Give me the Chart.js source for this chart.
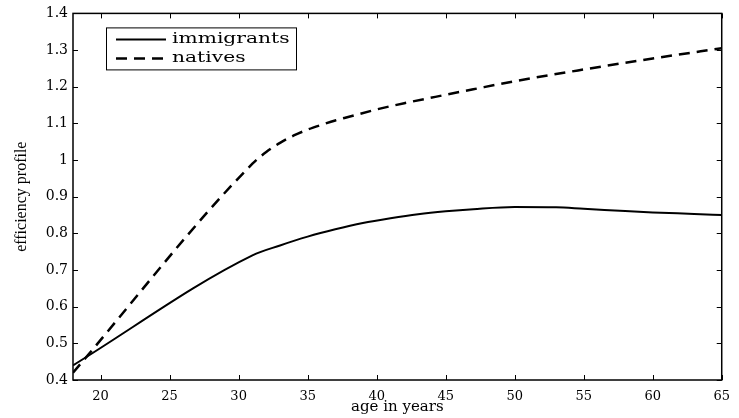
<!DOCTYPE html>
<html>
<head>
<meta charset="utf-8">
<script src="https://cdn.jsdelivr.net/npm/chart.js@4"></script>
<style>
  html, body { margin: 0; padding: 0; background: #fff; }
  #wrap { width: 739px; height: 418px; }
</style>
</head>
<body>
<div id="wrap"><canvas id="efficiencyChart" width="739" height="418"></canvas></div>
<script>
const immigrantAges = [18, 31, 33, 35, 37, 39, 41, 43, 45, 47, 50, 53, 55, 58, 60, 63, 65];
const immigrantValues = [0.44, 0.74, 0.767, 0.791, 0.811, 0.828, 0.841, 0.852, 0.860, 0.866, 0.872, 0.871, 0.867, 0.861, 0.857, 0.853, 0.850];

const nativeAges = [18, 31, 32, 33, 34, 35, 36, 37, 38, 40, 42, 45, 47, 50, 55, 60, 65];
const nativeValues = [0.42, 0.99, 1.022, 1.047, 1.067, 1.083, 1.096, 1.108, 1.118, 1.138, 1.155, 1.178, 1.193, 1.215, 1.247, 1.277, 1.305];

const xTicks = [20, 25, 30, 35, 40, 45, 50, 55, 60, 65];
const yTicks = [0.4, 0.5, 0.6, 0.7, 0.8, 0.9, 1.0, 1.1, 1.2, 1.3, 1.4];

const toPoints = (xs, ys) => xs.map((x, i) => ({ x: x, y: ys[i] }));

// box around the plot with inward tick marks, and the boxed legend
const framePlugin = {
    id: 'frame',
    afterDraw(chart) {
        const { ctx, chartArea: a, scales } = chart;
        const tick = 5;
        ctx.save();
        ctx.strokeStyle = '#000';
        ctx.lineWidth = 1;
        ctx.beginPath();
        xTicks.forEach(v => {
            const px = Math.round(scales.x.getPixelForValue(v)) + 0.5;
            ctx.moveTo(px, a.bottom); ctx.lineTo(px, a.bottom - tick);
            ctx.moveTo(px, a.top); ctx.lineTo(px, a.top + tick);
        });
        yTicks.forEach(v => {
            const py = Math.round(scales.y.getPixelForValue(v)) + 0.5;
            ctx.moveTo(a.left, py); ctx.lineTo(a.left + tick, py);
            ctx.moveTo(a.right, py); ctx.lineTo(a.right - tick, py);
        });
        ctx.stroke();
        ctx.lineWidth = 1.5;
        ctx.strokeRect(a.left, a.top, a.right - a.left, a.bottom - a.top);

        // legend
        const lx = a.left + 33, ly = a.top + 14, lw = 190, lh = 42;
        ctx.fillStyle = '#fff';
        ctx.fillRect(lx, ly, lw, lh);
        ctx.lineWidth = 1;
        ctx.strokeRect(lx + 0.5, ly + 0.5, lw, lh);
        const items = chart.data.datasets;
        ctx.font = '15px "DejaVu Serif"';
        ctx.textBaseline = 'middle';
        ctx.fillStyle = '#000';
        items.forEach((ds, i) => {
            const y = ly + 12 + i * 19;
            ctx.beginPath();
            ctx.lineWidth = ds.borderWidth;
            ctx.setLineDash(ds.borderDash || []);
            ctx.moveTo(lx + 10, y);
            ctx.lineTo(lx + 60, y);
            ctx.stroke();
            ctx.setLineDash([]);
            // the original figure's lettering is stretched sideways
            ctx.save();
            ctx.translate(lx + 66, y);
            ctx.scale(1.35, 1);
            ctx.fillText(ds.label, 0, 0);
            ctx.restore();
        });
        ctx.restore();
    }
};

const ctx = document.getElementById('efficiencyChart').getContext('2d');

new Chart(ctx, {
    type: 'line',
    data: {
        datasets: [
            {
                label: 'immigrants',
                data: toPoints(immigrantAges, immigrantValues),
                borderColor: '#000',
                borderWidth: 2,
                pointRadius: 0,
                cubicInterpolationMode: 'monotone',
                fill: false
            },
            {
                label: 'natives',
                data: toPoints(nativeAges, nativeValues),
                borderColor: '#000',
                borderWidth: 2.5,
                borderDash: [11, 7],
                pointRadius: 0,
                cubicInterpolationMode: 'monotone',
                fill: false
            }
        ]
    },
    options: {
        responsive: false,
        animation: false,
        layout: { padding: { top: 12, right: 13, left: 0, bottom: 0 } },
        plugins: {
            legend: { display: false },
            tooltip: { enabled: false }
        },
        scales: {
            x: {
                type: 'linear',
                min: 18,
                max: 65,
                grid: { display: false, drawTicks: false },
                border: { display: false },
                afterBuildTicks: axis => { axis.ticks = xTicks.map(v => ({ value: v })); },
                afterFit: axis => { axis.height = 38; },
                ticks: {
                    color: '#000',
                    padding: 9,
                    maxRotation: 0,
                    font: { family: '"DejaVu Serif"', size: 13 }
                },
                title: {
                    display: true,
                    text: 'age in years',
                    color: '#000',
                    padding: { top: 0, bottom: 2 },
                    font: { family: '"DejaVu Serif"', size: 15 }
                }
            },
            y: {
                min: 0.4,
                max: 1.4,
                grid: { display: false, drawTicks: false },
                border: { display: false },
                afterBuildTicks: axis => { axis.ticks = yTicks.map(v => ({ value: v })); },
                afterFit: axis => { axis.width = 73; },
                ticks: {
                    color: '#000',
                    padding: 5,
                    font: { family: '"DejaVu Serif"', size: 14 },
                    callback: v => String(Number(v.toFixed(1)))
                },
                title: {
                    display: true,
                    text: 'efficiency profile',
                    color: '#000',
                    padding: { top: 12, bottom: 0 },
                    font: { family: '"Liberation Serif"', size: 16 }
                }
            }
        }
    },
    plugins: [framePlugin]
});
</script>
</body>
</html>
